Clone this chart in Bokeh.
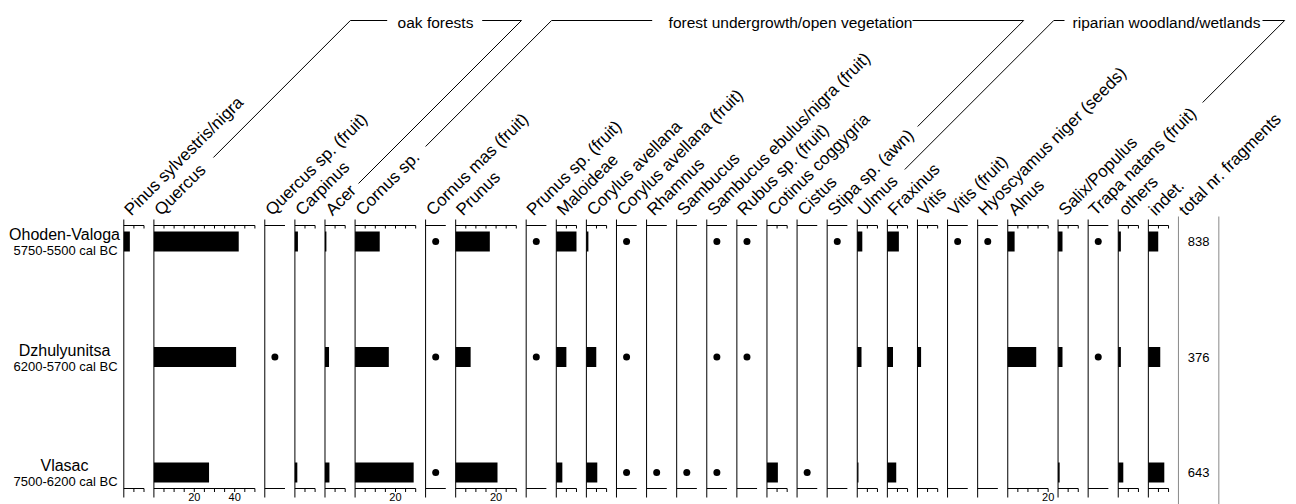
import math
from bokeh.plotting import figure
from bokeh.models import ColumnDataSource, Range1d
from bokeh.core.properties import value
from bokeh.embed import file_html
from bokeh.resources import INLINE

# ---------------- data ----------------
taxa = ["Pinus sylvestris/nigra", "Quercus", "Quercus sp. (fruit)", "Carpinus", "Acer",
        "Cornus sp.", "Cornus mas (fruit)", "Prunus", "Prunus sp. (fruit)", "Maloideae",
        "Corylus avellana", "Corylus avellana (fruit)", "Rhamnus", "Sambucus",
        "Sambucus ebulus/nigra (fruit)", "Rubus sp. (fruit)", "Cotinus  coggygria", "Cistus",
        "Stipa sp. (awn)", "Ulmus", "Fraxinus", "Vitis", "Vitis (fruit)",
        "Hyoscyamus niger (seeds)", "Alnus", "Salix/Populus", "Trapa natans (fruit)",
        "others", "indet."]
panel_max = [10, 50, 10, 10, 10, 30, 10, 30, 10, 10, 10, 10, 10, 10, 10, 10, 10, 10, 10,
             10, 10, 10, 10, 10, 20, 10, 10, 10, 10]

samples = ["Vlasac", "Dzhulyunitsa", "Ohoden-Valoga"]
sample_dates = ["7500-6200 cal BC", "6200-5700 cal BC", "5750-5500 cal BC"]
total_fragments = [643, 376, 838]
total_title = "total nr. fragments"

vlasac_pct = [0, 27.3, 0, 1.2, 2.2, 29.0, 0, 20.7, 0, 3.0, 5.4, 0, 0, 0, 0, 0, 5.4, 0, 0,
              0.6, 4.4, 0, 0, 0, 0, 0.8, 0, 2.5, 7.9]
vlasac_dot = [0, 0, 0, 0, 0, 0, 1, 0, 0, 0, 0, 1, 1, 1, 1, 0, 0, 1, 0,
              0, 0, 0, 0, 0, 0, 0, 0, 0, 0]
dzhul_pct = [0, 40.7, 0, 0, 2.0, 16.7, 0, 7.4, 0, 5.0, 4.9, 0, 0, 0, 0, 0, 0, 0, 0,
             2.1, 2.8, 1.8, 0, 0, 14.1, 2.2, 0, 1.3, 5.9]
dzhul_dot = [0, 0, 1, 0, 0, 0, 1, 0, 1, 0, 0, 1, 0, 0, 1, 1, 0, 0, 0,
             0, 0, 0, 0, 0, 0, 0, 1, 0, 0]
ohoden_pct = [3.0, 42.0, 0, 1.5, 0.7, 12.2, 0, 16.9, 0, 10.0, 1.0, 0, 0, 0, 0, 0, 0, 0, 0,
              2.5, 5.7, 0, 0, 0, 3.4, 2.2, 0, 1.3, 4.9]
ohoden_dot = [0, 0, 0, 0, 0, 0, 1, 0, 1, 0, 0, 1, 0, 0, 1, 1, 0, 0, 1,
              0, 0, 0, 1, 1, 0, 0, 1, 0, 0]

groups = ["oak forests", "forest undergrowth/open vegetation", "riparian woodland/wetlands"]
group_first = ["Quercus", "Cornus sp.", "Ulmus"]
group_last = ["Acer", "Stipa sp. (awn)", "Trapa natans (fruit)"]

pct_rows = [vlasac_pct, dzhul_pct, ohoden_pct]
dot_rows = [vlasac_dot, dzhul_dot, ohoden_dot]

# ---------------- layout ----------------
W, H = 1296, 504
KX = 2.02          # px per percent
KY = 115.5         # px per sample step
GAP = 4.9          # gap between panels (percent units)
TOTAL_W = 20

offsets = []
acc = 0.0
for w in panel_max:
    offsets.append(acc)
    acc += w + GAP
total_off = acc

xs = -123.3 / KX
xe = xs + W / KX
ye = 472.0 / KY
ys = ye - H / KY


def X(px):   # page px -> data x
    return xs + px / KX


def Y(py):   # page px -> data y
    return ye - py / KY


def PX(x):
    return (x - xs) * KX


p = figure(width=W, height=H, x_range=Range1d(xs, xe), y_range=Range1d(ys, ye),
           x_axis_type=None, y_axis_type=None, toolbar_location=None,
           output_backend="svg", min_border=0, outline_line_color=None,
           background_fill_color="white", border_fill_color="white")
p.grid.visible = False

FONT = value("Liberation Sans")

# bars and dots
bl, br, by, dx_, dy_ = [], [], [], [], []
for si, (pr, dr) in enumerate(zip(pct_rows, dot_rows)):
    for i in range(len(taxa)):
        if pr[i] > 0:
            bl.append(offsets[i]); br.append(offsets[i] + pr[i]); by.append(si)
        if dr[i]:
            dx_.append(offsets[i] + panel_max[i] / 2); dy_.append(si)

p.hbar(y="y", left="left", right="right", height=20 / KY,
       source=ColumnDataSource(dict(y=by, left=bl, right=br)),
       fill_color="black", line_color=None)
p.scatter(x="x", y="y", source=ColumnDataSource(dict(x=dx_, y=dy_)),
          size=7, fill_color="black", line_color=None)

# panel frames
has_bars = [any(r[i] > 0 for r in pct_rows) for i in range(len(taxa))]
sx0, sy0, sx1, sy1 = [], [], [], []
for i, w in enumerate(panel_max):
    o = offsets[i]
    sx0 += [o, o, o]; sx1 += [o, o + w, o + w]
    sy0 += [Y(219), Y(225), Y(488)]; sy1 += [Y(497), Y(225), Y(488)]
    if has_bars[i]:
        t = 5
        while t <= w + 1e-9:
            sx0 += [o + t, o + t]; sx1 += [o + t, o + t]
            sy0 += [Y(225), Y(488)]; sy1 += [Y(228), Y(491.5)]
            t += 5
p.segment(x0=sx0, y0=sy0, x1=sx1, y1=sy1, line_color="black", line_width=1)

# total column lines
p.segment(x0=[total_off, total_off + TOTAL_W], y0=[Y(216), Y(216)],
          x1=[total_off, total_off + TOTAL_W], y1=[Y(504), Y(504)],
          line_color="#8a8a8a", line_width=1)

# bottom tick labels
tlx, tlt = [], []
for i, w in enumerate(panel_max):
    if w >= 20 and has_bars[i]:
        t = 20
        while t <= w:
            tlx.append(offsets[i] + t); tlt.append(str(t)); t += 20
p.text(x=tlx, y=[Y(492.5)] * len(tlx), text=tlt, text_font=FONT, text_font_size="11px",
       text_align="center", text_baseline="top", text_color="black")

# rotated taxon labels
ANC = 3.5 / KX
lab_x = [o + ANC for o in offsets] + [total_off + ANC]
lab_t = taxa + [total_title]
p.text(x=lab_x, y=[Y(212)] * len(lab_x), text=lab_t, angle=math.pi / 4,
       text_font=FONT, text_font_size="17px", text_align="left",
       text_baseline="alphabetic", text_color="black")

# sample labels and totals
p.text(x=[X(64)] * 3, y=[s + 7 / KY for s in range(3)], text=samples, text_font=FONT,
       text_font_size="16px", text_align="center", text_baseline="middle", text_color="black")
p.text(x=[X(65)] * 3, y=[s - 9 / KY for s in range(3)], text=sample_dates, text_font=FONT,
       text_font_size="13px", text_align="center", text_baseline="middle", text_color="black")
p.text(x=[total_off + TOTAL_W / 2] * 3, y=list(range(3)), text=[str(v) for v in total_fragments],
       text_font=FONT, text_font_size="13px", text_align="center", text_baseline="middle",
       text_color="black")

# group headers with leader lines
lead_first_px = [56, 67, 44]
lead_last_px = [30, 87, 111]
grp_center_px = [435, 790, 1166]
grp_left_end_px = [386.7, 651.7, 1064]
grp_right_start_px = [481.7, 912, 1262]
HDR = 20
mxs, mys = [], []
for g in range(len(groups)):
    a1 = PX(offsets[taxa.index(group_first[g])]) + 3.5
    a2 = PX(offsets[taxa.index(group_last[g])]) + 3.5
    d1, d2 = lead_first_px[g], lead_last_px[g]
    c1 = a1 + (214 - HDR) - 1
    c2 = a2 + (214 - HDR) - 1
    mxs.append([X(a1 + d1), X(c1), X(grp_left_end_px[g])])
    mys.append([Y(213 - d1), Y(HDR), Y(HDR)])
    mxs.append([X(grp_right_start_px[g]), X(c2), X(a2 + d2)])
    mys.append([Y(HDR), Y(HDR), Y(213 - d2)])
p.multi_line(xs=mxs, ys=mys, line_color="black", line_width=1)
p.text(x=[X(c) for c in grp_center_px], y=[Y(22)] * 3, text=groups, text_font=FONT,
       text_font_size="15.5px", text_align="center", text_baseline="middle", text_color="black")

open("out.html", "w").write(file_html(p, INLINE))
